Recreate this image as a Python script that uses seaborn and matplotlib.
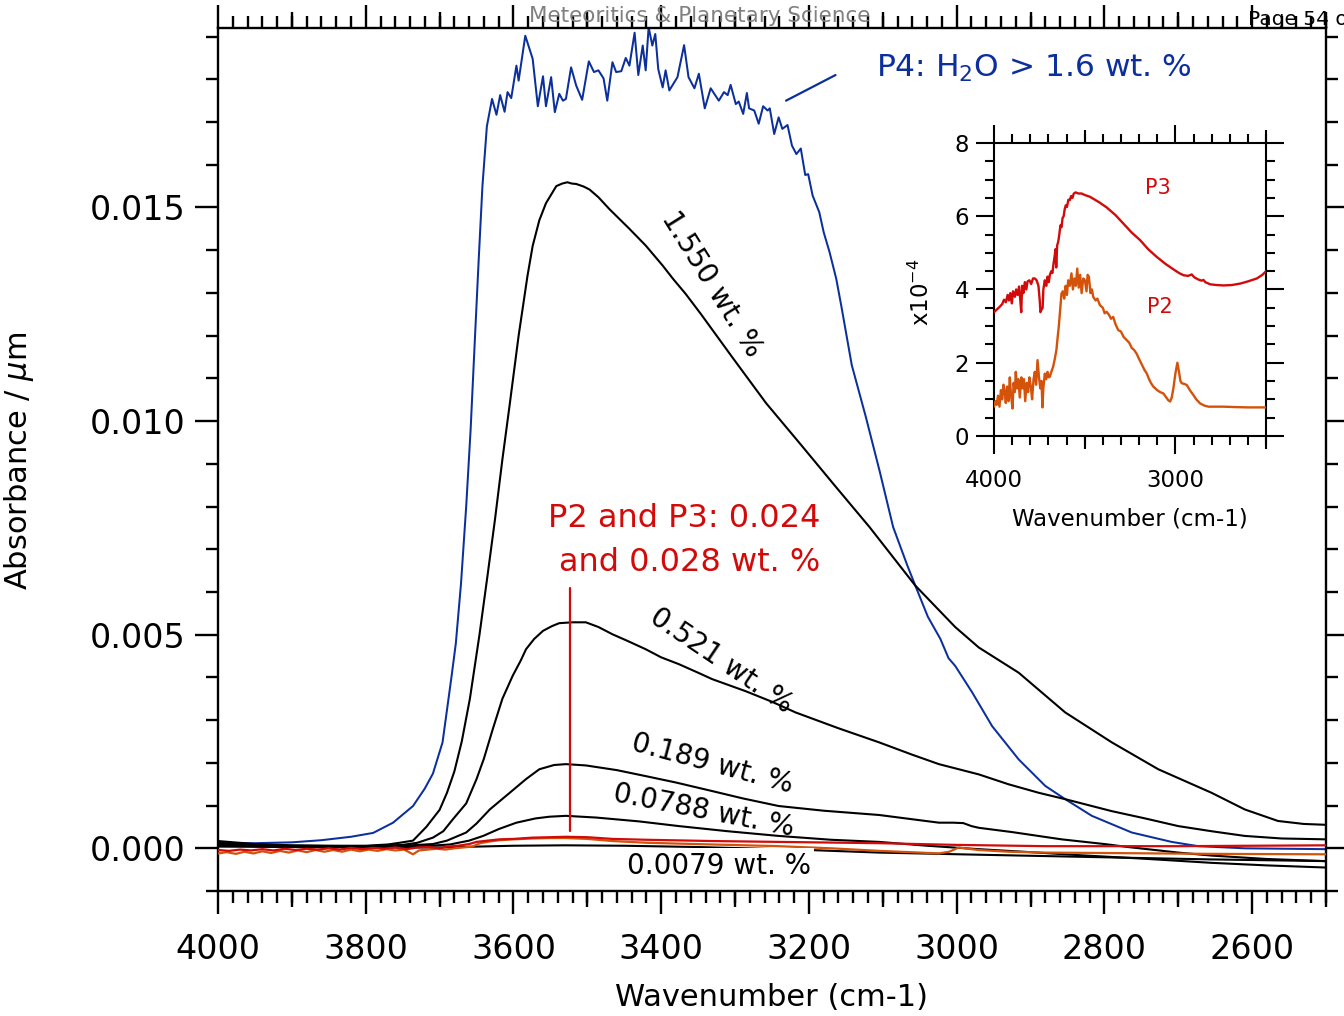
import matplotlib
matplotlib.use("Agg")
import matplotlib.pyplot as plt
import seaborn as sns
from matplotlib.ticker import FixedLocator, MultipleLocator, FormatStrFormatter

# ---------------- data ----------------
# P4 (blue): H2O > 1.6 wt. %
p4_wn = [4000, 3950, 3900, 3860, 3820, 3790, 3763, 3736, 3720, 3709, 3696, 3684, 3678,
         3671, 3664, 3658, 3652, 3647, 3642, 3636,
         3629, 3623, 3618, 3612, 3608, 3603, 3596, 3593, 3584, 3574, 3567, 3560, 3556, 3549,
         3544, 3538, 3533, 3529, 3522, 3515, 3507, 3498, 3491, 3485, 3478, 3473, 3466, 3461,
         3454, 3448, 3443, 3436, 3431, 3425, 3421, 3417, 3412, 3408, 3404, 3398, 3394, 3389,
         3378, 3369, 3363, 3355, 3349, 3341, 3333, 3322, 3315, 3310, 3306, 3299, 3295, 3289,
         3284, 3281, 3274, 3268, 3262, 3256, 3253, 3247, 3241, 3236, 3229, 3223, 3217, 3211,
         3205, 3201, 3195, 3186, 3180, 3172, 3163, 3156, 3142, 3123, 3104, 3086, 3067, 3056,
         3039, 3022, 3011, 3002, 2979, 2952, 2916, 2880, 2853, 2817, 2763, 2709, 2673, 2610, 2500]
p4_abs = [0.00012, 0.00012, 0.00014, 0.00019, 0.00027, 0.00036, 0.0006, 0.00099, 0.0014, 0.00175,
          0.00248, 0.0040, 0.0048,
          0.0062, 0.0080, 0.0098, 0.0120, 0.0138, 0.0155, 0.0169,
          0.01754, 0.01717, 0.01763, 0.01724, 0.0177, 0.01756, 0.01832, 0.01797, 0.01902, 0.01848,
          0.01737, 0.01807, 0.01737, 0.01805, 0.01723, 0.01766, 0.0175, 0.01754, 0.01828, 0.01785,
          0.01752, 0.01842, 0.01817, 0.01821, 0.01802, 0.0175, 0.0184, 0.01817, 0.01819, 0.0185,
          0.01832, 0.01909, 0.0181, 0.01879, 0.01821, 0.01922, 0.01879, 0.01906, 0.01824, 0.01781,
          0.01821, 0.01774, 0.01805, 0.0188, 0.01805, 0.01779, 0.01813, 0.01732, 0.01779, 0.0175,
          0.0177, 0.01763, 0.01787, 0.01742, 0.01748, 0.01719, 0.01768, 0.01732, 0.01727, 0.01696,
          0.01737, 0.01727, 0.01732, 0.01672, 0.01711, 0.01684, 0.01693, 0.01645, 0.01625, 0.01638,
          0.01576, 0.01578, 0.01528, 0.01489, 0.01442, 0.01395, 0.01333, 0.01268, 0.01131, 0.0101,
          0.00881, 0.00752, 0.00663, 0.00615, 0.00542, 0.0049, 0.00445, 0.00427, 0.00365, 0.00286,
          0.00208, 0.00146, 0.00115, 0.00076, 0.00037, 0.00015, 0.00005, 0.0, -0.00002]

# 1.550 wt. %
s1550_wn = [4000, 3950, 3900, 3850, 3800, 3770, 3754, 3736, 3718, 3700, 3690, 3680, 3670, 3659,
            3646, 3635, 3625, 3615, 3605, 3593, 3581, 3574, 3565, 3556, 3542, 3534, 3527, 3521,
            3515, 3505, 3497, 3485, 3470, 3443, 3421, 3398, 3384, 3367, 3346, 3304, 3258, 3211,
            3165, 3118, 3056, 3002, 2970, 2916, 2853, 2790, 2727, 2655, 2610, 2565, 2530, 2500]
s1550_abs = [0.00017, 0.0001, 0.00007, 0.00006, 0.00006, 0.00009, 0.00013, 0.00018, 0.0005,
             0.0009, 0.0013, 0.0018, 0.0025, 0.0035, 0.0050, 0.0064, 0.0077, 0.0091, 0.0104,
             0.0120, 0.0134, 0.0141, 0.0147, 0.0151, 0.0155, 0.01556, 0.01559, 0.01556, 0.01555,
             0.01549, 0.01542, 0.01524, 0.01496, 0.0145, 0.01411, 0.01364, 0.01333, 0.01298,
             0.0125, 0.0115, 0.01042, 0.00945, 0.00849, 0.00752, 0.00615, 0.00518, 0.0047,
             0.00411, 0.00318, 0.00248, 0.00185, 0.0013, 0.00091, 0.00064, 0.00057, 0.00055]

# 0.521 wt. %
s0521_wn = [4000, 3950, 3900, 3800, 3750, 3730, 3709, 3695, 3682, 3664, 3650, 3640, 3628, 3615,
            3601, 3590, 3583, 3572, 3560, 3548, 3538, 3520, 3502, 3485, 3466, 3445, 3421, 3400,
            3376, 3350, 3331, 3286, 3250, 3218, 3160, 3105, 3060, 3024, 2970, 2930, 2889, 2853,
            2790, 2745, 2700, 2655, 2610, 2560, 2500]
s0521_abs = [0.00013, 0.00008, 0.00006, 0.00005, 0.00008, 0.00013, 0.00025, 0.0004, 0.00068,
             0.00105, 0.00162, 0.0021, 0.00279, 0.0035, 0.00404, 0.0044, 0.00466, 0.0049,
             0.00509, 0.0052, 0.00527, 0.00529, 0.00529, 0.00518, 0.00501, 0.00485, 0.00466,
             0.00447, 0.00431, 0.00411, 0.00396, 0.00368, 0.00343, 0.00318, 0.00281, 0.00248,
             0.00219, 0.00197, 0.00173, 0.0015, 0.0013, 0.00115, 0.00087, 0.0007, 0.00052,
             0.0004, 0.00029, 0.00023, 0.00021]

# 0.189 wt. %
s0189_wn = [4000, 3950, 3900, 3800, 3750, 3709, 3690, 3664, 3650, 3632, 3605, 3583, 3565, 3545,
            3529, 3502, 3460, 3421, 3380, 3331, 3290, 3241, 3180, 3105, 3060, 3024, 3005, 2991,
            2980, 2970, 2925, 2858, 2800, 2768, 2700, 2655, 2580, 2500]
s0189_abs = [0.0001, 0.00007, 0.00005, 0.00005, 0.00006, 0.0001, 0.00018, 0.00037, 0.00058,
             0.00091, 0.0013, 0.00162, 0.00185, 0.00195, 0.00197, 0.00194, 0.00183, 0.00169,
             0.00154, 0.00134, 0.00117, 0.00099, 0.00088, 0.00078, 0.00068, 0.0006, 0.0006,
             0.00059, 0.00052, 0.00048, 0.00038, 0.00021, 0.0001, 0.00003, -0.0001, -0.00017,
             -0.00025, -0.0003]

# 0.0788 wt. %
s0788_wn = [4000, 3950, 3900, 3800, 3730, 3686, 3660, 3641, 3620, 3596, 3570, 3551, 3529, 3488,
            3430, 3376, 3310, 3241, 3170, 3105, 3040, 2970, 2900, 2835, 2750, 2655, 2580, 2500]
s0788_abs = [0.00007, 0.00005, 0.00004, 0.00004, 0.00004, 0.00009, 0.00018, 0.00029, 0.00045,
             0.0006, 0.0007, 0.00074, 0.00076, 0.00072, 0.00063, 0.00052, 0.0004, 0.00029, 0.0002,
             0.00015, 0.00006, -0.00002, -0.00009, -0.00016, -0.00024, -0.00034, -0.0004, -0.00045]

# 0.0079 wt. %
s0079_wn = [4000, 3900, 3800, 3700, 3650, 3600, 3530, 3450, 3350, 3200, 3105, 2970, 2800, 2655, 2500]
s0079_abs = [0.00004, 0.00003, 0.00002, 0.00002, 0.00004, 0.00006, 0.00007, 0.00006, 0.00003,
             -0.00004, -0.0001, -0.00015, -0.00021, -0.00026, -0.0003]

# P3 (red) in main panel
p3_wn = [4000, 3985, 3970, 3955, 3940, 3925, 3910, 3895, 3880, 3865, 3850, 3835, 3820, 3805, 3790,
         3775, 3760, 3745, 3730, 3715, 3700, 3690, 3675, 3660, 3650, 3635, 3619, 3600, 3574, 3550,
         3529, 3500, 3466, 3420, 3331, 3241, 3105, 3000, 2880, 2700, 2600, 2500]
p3_abs = [-0.00004, -0.00006, -0.00003, -0.00005, -0.00002, -0.00005, -0.00001, -0.00004,
          -0.00001, -0.00003, 0.0, -0.00003, 0.00001, -0.00002, 0.00001, -0.00001, 0.00002,
          -0.00002, 0.00002, 0.00003, 0.0, 0.00004, 0.00006, 0.0001, 0.00015, 0.00018, 0.00021,
          0.00022, 0.00025, 0.00026, 0.00027, 0.00026, 0.00022, 0.0002, 0.00017, 0.00015, 0.00012,
          0.00008, 0.00005, 0.00005, 0.00006, 0.00007]

# P2 (orange) in main panel
p2_wn = [4000, 3988, 3976, 3964, 3952, 3940, 3928, 3916, 3904, 3892, 3880, 3868, 3856, 3844, 3832,
         3820, 3808, 3796, 3784, 3772, 3760, 3748, 3736, 3728, 3716, 3704, 3692, 3680, 3668, 3656,
         3645, 3632, 3619, 3600, 3574, 3550, 3529, 3500, 3466, 3420, 3331, 3241, 3170, 3105, 3050,
         3024, 3010, 2997, 2985, 2970, 2930, 2880, 2800, 2655, 2500]
p2_abs = [-0.00012, -0.00009, -0.00013, -0.00008, -0.00012, -0.00007, -0.00011, -0.00006, -0.0001,
          -0.00005, -0.00009, -0.00004, -0.00008, -0.00004, -0.00008, -0.00003, -0.00007, -0.00003,
          -0.00006, -0.00002, -0.00005, -0.00003, -0.00014, -0.00005, -0.00003, -0.00001, -0.00003,
          0.0, 0.00002, 0.00004, 0.00012, 0.00016, 0.00019, 0.00021, 0.00023, 0.00024, 0.00024,
          0.00022, 0.00017, 0.00013, 0.00009, 0.00005, 0.0, -0.00006, -0.0001, -0.00012, -0.00008,
          0.00002, -0.00001, -0.00004, -0.00008, -0.0001, -0.00011, -0.00013, -0.00014]

# Inset (x10^-4)
in_p3_wn = [4000, 3985, 3970, 3955, 3945, 3935, 3925, 3918, 3910, 3902, 3895, 3885, 3878, 3870,
            3862, 3855, 3850, 3845, 3838, 3830, 3822, 3815, 3805, 3795, 3785, 3775, 3765, 3755,
            3748, 3744, 3738, 3732, 3728, 3720, 3712, 3705, 3698, 3692, 3684, 3678, 3672, 3666,
            3661, 3657, 3652, 3646, 3640, 3634, 3628, 3622, 3616, 3610, 3604, 3598, 3590, 3582,
            3575, 3568, 3560, 3550, 3535, 3517, 3500, 3471, 3420, 3379, 3330, 3287, 3240, 3195,
            3150, 3103, 3055, 3011, 2980, 2956, 2930, 2910, 2895, 2873, 2855, 2845, 2835, 2808,
            2770, 2735, 2690, 2643, 2600, 2551, 2520, 2500]
in_p3_abs = [3.38, 3.45, 3.52, 3.6, 3.72, 3.65, 3.85, 3.7, 3.9, 3.62, 3.95, 3.8, 4.0, 3.85, 4.08,
             3.7, 3.38, 4.1, 3.9, 4.2, 4.0, 4.22, 4.25, 4.15, 4.3, 4.3, 4.25, 4.1, 3.7, 3.38, 3.45,
             3.5, 4.0, 4.25, 4.1, 4.35, 4.2, 4.4, 4.5, 4.45, 4.7, 4.9, 5.1, 4.6, 5.2, 5.3, 5.5,
             5.75, 5.7, 5.95, 6.0, 6.2, 6.3, 6.25, 6.45, 6.44, 6.55, 6.5, 6.62, 6.65, 6.62, 6.62,
             6.58, 6.53, 6.38, 6.24, 6.03, 5.8, 5.55, 5.35, 5.1, 4.89, 4.7, 4.55, 4.45, 4.39, 4.37,
             4.41, 4.33, 4.27, 4.24, 4.26, 4.2, 4.14, 4.12, 4.11, 4.12, 4.16, 4.22, 4.3, 4.4, 4.5]

in_p2_wn = [4000, 3992, 3985, 3978, 3970, 3962, 3955, 3948, 3941, 3935, 3928, 3920, 3913, 3906,
            3898, 3892, 3885, 3880, 3873, 3866, 3858, 3849, 3842, 3835, 3828, 3820, 3812, 3805,
            3797, 3790, 3782, 3775, 3768, 3760, 3752, 3745, 3738, 3733, 3728, 3720, 3712, 3705,
            3698, 3692, 3684, 3674, 3665, 3656, 3649, 3643, 3636, 3628, 3620, 3613, 3605, 3598,
            3591, 3582, 3573, 3565, 3557, 3549, 3541, 3533, 3525, 3517, 3508, 3499, 3490, 3484,
            3477, 3468, 3460, 3453, 3440, 3430, 3416, 3400, 3390, 3379, 3365, 3355, 3343, 3330,
            3315, 3300, 3285, 3269, 3255, 3240, 3228, 3214, 3200, 3185, 3170, 3158, 3145, 3135,
            3122, 3100, 3085, 3066, 3050, 3040, 3029, 3020, 3011, 3000, 2989, 2980, 2972, 2965,
            2950, 2937, 2920, 2901, 2885, 2864, 2840, 2818, 2780, 2735, 2680, 2600, 2550, 2500]
in_p2_abs = [0.8, 0.95, 0.85, 1.1, 0.8, 1.25, 1.0, 1.4, 1.2, 0.9, 1.35, 0.95, 1.6, 1.1, 0.75, 1.45,
             1.2, 1.75, 1.3, 1.55, 1.05, 1.6, 1.3, 1.55, 0.95, 1.45, 1.2, 1.6, 1.35, 1.0, 1.55,
             1.75, 1.4, 2.07, 1.6, 1.3, 1.5, 0.78, 1.3, 1.7, 1.55, 1.75, 1.6, 1.62, 1.75, 1.89,
             2.1, 2.35, 2.7, 2.98, 3.4, 3.89, 3.95, 3.75, 4.1, 3.85, 4.25, 4.1, 4.44, 4.0, 4.3,
             4.1, 4.57, 4.05, 4.4, 3.9, 4.3, 4.25, 3.95, 4.4, 4.35, 3.9, 4.0, 3.8, 3.7, 3.75, 3.57,
             3.5, 3.35, 3.39, 3.3, 3.2, 3.25, 3.05, 2.89, 2.85, 2.7, 2.62, 2.55, 2.4, 2.35, 2.25,
             2.1, 1.95, 1.8, 1.71, 1.55, 1.45, 1.35, 1.25, 1.2, 1.16, 1.05, 0.98, 0.94, 1.05, 1.3,
             1.7, 2.0, 1.75, 1.5, 1.44, 1.42, 1.39, 1.25, 1.12, 1.0, 0.89, 0.83, 0.8, 0.8, 0.8,
             0.79, 0.78, 0.78, 0.78]

main_yticks = [0.0, 0.005, 0.010, 0.015]
main_xticks = [4000, 3800, 3600, 3400, 3200, 3000, 2800, 2600]
inset_yticks = [0, 2, 4, 6, 8]
inset_xticks = [4000, 3000]

# ---------------- style ----------------
BLUE = "#0b2f9c"
RED = "#d20a0a"
ORANGE = "#d4520a"
BLACK = "black"

sns.set_style("ticks", rc={"axes.edgecolor": "black", "xtick.color": "black",
                           "ytick.color": "black", "text.color": "black",
                           "axes.labelcolor": "black"})
plt.rcParams["font.family"] = ["DejaVu Sans"]
plt.rcParams["mathtext.fontset"] = "dejavusans"

fig = plt.figure(figsize=(13.44, 10.16), dpi=100)
ax = fig.add_axes([0.1622, 0.1230, 0.8244, 0.8494])


def draw(a, x, y, color, lw, z=2):
    sns.lineplot(x=x, y=y, ax=a, color=color, linewidth=lw, sort=False,
                 estimator=None, legend=False, zorder=z)


draw(ax, p4_wn, p4_abs, BLUE, 1.45, 2)
for wn, ab in [(s1550_wn, s1550_abs), (s0521_wn, s0521_abs), (s0189_wn, s0189_abs),
               (s0788_wn, s0788_abs), (s0079_wn, s0079_abs)]:
    draw(ax, wn, ab, BLACK, 1.5, 3)
draw(ax, p2_wn, p2_abs, ORANGE, 1.6, 4)
draw(ax, p3_wn, p3_abs, RED, 1.6, 4)

ax.set_xlim(4000, 2500)
ax.set_ylim(-0.001, 0.0192)

# ticks
LW = 1.7
ax.xaxis.set_major_locator(FixedLocator(main_xticks))
ax.xaxis.set_minor_locator(MultipleLocator(20))
ax.yaxis.set_major_locator(FixedLocator(main_yticks))
ax.yaxis.set_minor_locator(MultipleLocator(0.001))
ax.yaxis.set_major_formatter(FormatStrFormatter("%.3f"))
ax.tick_params(which="both", direction="out", top=True, right=True, width=LW, color="black")
ax.tick_params(which="major", length=16.5)
ax.tick_params(which="minor", length=8.5)
ax.tick_params(axis="x", which="major", labelsize=24, pad=13.5)
ax.tick_params(axis="y", which="major", labelsize=24, pad=7)
for s in ax.spines.values():
    s.set_linewidth(LW)
    s.set_visible(True)

for loc in ["bottom", "top"]:
    sec = ax.secondary_xaxis(loc)
    sec.set_xticks([3900, 3700, 3500, 3300, 3100, 2900, 2700, 2500])
    sec.tick_params(axis="x", which="major", direction="out", length=11.5, width=LW,
                    labelbottom=False, labeltop=False)
    for s in sec.spines.values():
        s.set_visible(False)

ax.set_xlabel("Wavenumber (cm-1)", fontsize=22)
ax.set_ylabel("Absorbance / $\\mu$m", fontsize=22)
ax.xaxis.set_label_coords(0.5, -0.106)
ax.yaxis.set_label_coords(-0.164, 0.498)

# annotations
ax.text(3109, 0.01806, "P4: H$_2$O > 1.6 wt. %", color=BLUE, fontsize=22.5,
        ha="left", va="baseline")
ax.plot([3231, 3164], [0.0175, 0.0181], color=BLUE, lw=1.6, zorder=5)

ax.text(3184, 0.00752, "P2 and P3: 0.024", color=RED, fontsize=23, ha="right", va="baseline")
ax.text(3184, 0.00650, "and 0.028 wt. %", color=RED, fontsize=23, ha="right", va="baseline")
ax.plot([3523, 3523], [0.0061, 0.0004], color=RED, lw=1.6, zorder=6)

lab_kw = dict(fontsize=20, ha="center", va="center", rotation_mode="anchor", zorder=7)
ax.text(3332, 0.01321, "1.550 wt. %", rotation=-58, **lab_kw)
ax.text(3319, 0.00440, "0.521 wt. %", rotation=-34, **lab_kw)
ax.text(3331, 0.00197, "0.189 wt. %", rotation=-15, **lab_kw)
ax.text(3342, 0.00087, "0.0788 wt. %", rotation=-11, **lab_kw)
ax.text(3322, -0.00041, "0.0079 wt. %", rotation=0,
        bbox=dict(boxstyle="square,pad=0.12", fc="white", ec="none"), **lab_kw)

# ---------------- inset ----------------
axi = fig.add_axes([0.7396, 0.5709, 0.2024, 0.2884])
axi.set_facecolor("white")
draw(axi, in_p3_wn, in_p3_abs, RED, 1.7, 3)
draw(axi, in_p2_wn, in_p2_abs, ORANGE, 1.7, 3)
axi.set_xlim(4000, 2500)
axi.set_ylim(0, 8)
ILW = 1.5
axi.xaxis.set_major_locator(FixedLocator(inset_xticks))
axi.xaxis.set_minor_locator(MultipleLocator(100))
axi.yaxis.set_major_locator(FixedLocator(inset_yticks))
axi.yaxis.set_minor_locator(MultipleLocator(0.5))
axi.tick_params(which="both", direction="out", top=True, right=True, width=ILW, color="black")
axi.tick_params(which="major", length=13, labelsize=16.5)
axi.tick_params(axis="x", which="major", pad=10.5)
axi.tick_params(axis="y", which="major", pad=5)
axi.tick_params(which="minor", length=6.5)
for s in axi.spines.values():
    s.set_linewidth(ILW)
    s.set_visible(True)
for loc in ["bottom", "top"]:
    sec = axi.secondary_xaxis(loc)
    sec.set_xticks([3500, 2500])
    sec.tick_params(axis="x", which="major", direction="out", length=9.5, width=ILW,
                    labelbottom=False, labeltop=False)
    for s in sec.spines.values():
        s.set_visible(False)
axi.set_xlabel("Wavenumber (cm-1)", fontsize=16.5)
axi.set_ylabel("x10$^{-4}$", fontsize=16.5)
axi.xaxis.set_label_coords(0.5, -0.245)
axi.yaxis.set_label_coords(-0.22, 0.49)
axi.text(3099, 6.78, "P3", color=RED, fontsize=15, ha="center", va="center")
axi.text(3088, 3.53, "P2", color=RED, fontsize=15, ha="center", va="center")

# page header remnants
fig.text(700 / 1344, 1 - 16 / 1016, "Meteoritics & Planetary Science", ha="center",
         va="center", color="#808080", fontsize=15.5)
fig.text(1248 / 1344, 1 - 25 / 1016, "Page 54 of", ha="left", va="baseline",
         color="black", fontsize=14.5)

fig.savefig("out.png", dpi=100)
